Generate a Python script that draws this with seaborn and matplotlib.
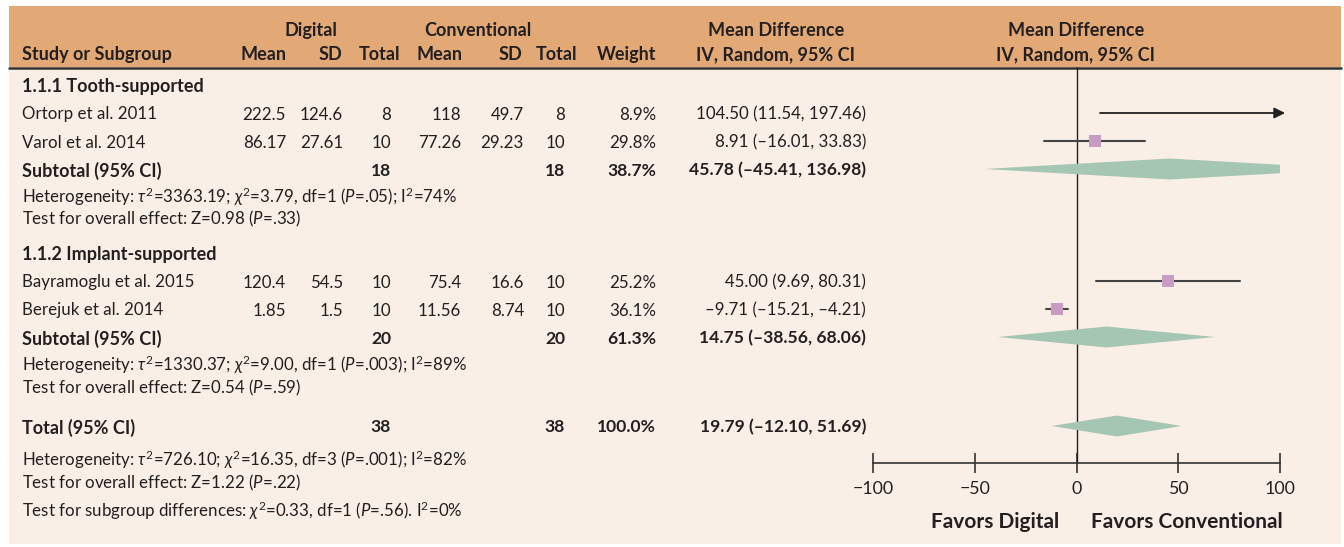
import numpy as np
import pandas as pd
import matplotlib
matplotlib.use('Agg')
import matplotlib.pyplot as plt
import seaborn as sns
from matplotlib.patches import Rectangle

sns.set_theme(style='white')
FONT = 'Lato'
plt.rcParams['font.family'] = [FONT, 'DejaVu Sans']
plt.rcParams['mathtext.fontset'] = 'custom'
plt.rcParams['mathtext.rm'] = FONT
plt.rcParams['mathtext.it'] = FONT + ':italic'
plt.rcParams['mathtext.bf'] = FONT + ':bold'

# ---- data ----
groups = ['1.1.1 Tooth-supported', '1.1.2 Implant-supported']
studies = ['Ortorp et al. 2011', 'Varol et al. 2014', 'Bayramoglu et al. 2015', 'Berejuk et al. 2014']
dig_mean = ['222.5', '86.17', '120.4', '1.85']
dig_sd = ['124.6', '27.61', '54.5', '1.5']
dig_n = ['8', '10', '10', '10']
con_mean = ['118', '77.26', '75.4', '11.56']
con_sd = ['49.7', '29.23', '16.6', '8.74']
con_n = ['8', '10', '10', '10']
weight = ['8.9%', '29.8%', '25.2%', '36.1%']
md = [104.50, 8.91, 45.00, -9.71]
md_lo = [11.54, -16.01, 9.69, -15.21]
md_hi = [197.46, 33.83, 80.31, -4.21]

sub_labels = ['Subtotal (95% CI)', 'Subtotal (95% CI)', 'Total (95% CI)']
sub_n = ['18', '20', '38']
sub_weight = ['38.7%', '61.3%', '100.0%']
sub_md = [45.78, 14.75, 19.79]
sub_lo = [-45.41, -38.56, -12.10]
sub_hi = [136.98, 68.06, 51.69]

notes = [
    [r'Heterogeneity: $\tau^2$=3363.19; $\chi^2$=3.79, df=1 ($\mathit{P}$=.05); I$^2$=74%',
     r'Test for overall effect: Z=0.98 ($\mathit{P}$=.33)'],
    [r'Heterogeneity: $\tau^2$=1330.37; $\chi^2$=9.00, df=1 ($\mathit{P}$=.003); I$^2$=89%',
     r'Test for overall effect: Z=0.54 ($\mathit{P}$=.59)'],
    [r'Heterogeneity: $\tau^2$=726.10; $\chi^2$=16.35, df=3 ($\mathit{P}$=.001); I$^2$=82%',
     r'Test for overall effect: Z=1.22 ($\mathit{P}$=.22)',
     r'Test for subgroup differences: $\chi^2$=0.33, df=1 ($\mathit{P}$=.56). I$^2$=0%'],
]
ticks = [-100, -50, 0, 50, 100]

# ---- layout (pixel rows) ----
W, H = 1344, 547
group_y = [85, 253]
study_y = [113, 141, 281, 309]
sub_y = [169, 337, 426]
note_y = [[194, 217], [362, 386], [457, 481, 508]]

TXT = '#231F20'
FS = 12.2
FSB = 12.6
FSH = 13

fig = plt.figure(figsize=(W / 100, H / 100), dpi=100)
ax0 = fig.add_axes([0, 0, 1, 1])
ax0.set_xlim(0, W)
ax0.set_ylim(H, 0)
ax0.axis('off')
ax0.add_patch(Rectangle((9, 6), 1332, 538, color='#FAEFE6', lw=0))
ax0.add_patch(Rectangle((9, 6), 1332, 61, color='#E2A977', lw=0))
ax0.plot([9, 1341], [67.5, 67.5], color='#333333', lw=1.8)


def put(x, y, s, ha='left', bold=False, size=None):
    if size is None:
        size = FSB if bold else FS
    ax0.text(x, y, s, ha=ha, va='center_baseline', fontsize=size, color=TXT,
             fontweight='bold' if bold else 'normal')


# header
put(311, 29, 'Digital', 'center', True, FSH)
put(478, 29, 'Conventional', 'center', True, FSH)
put(776, 29, 'Mean Difference', 'center', True, FSH)
put(1076, 29, 'Mean Difference', 'center', True, FSH)
put(22, 53, 'Study or Subgroup', bold=True, size=FSH)
for x, s in zip([286, 342, 400, 462, 522, 577, 656],
                ['Mean', 'SD', 'Total', 'Mean', 'SD', 'Total', 'Weight']):
    put(x, 53, s, 'right', True, FSH)
put(776, 53, 'IV, Random, 95% CI', 'center', True, FSH)
put(1076, 53, 'IV, Random, 95% CI', 'center', True, FSH)

cols = [286, 343, 391, 461, 524, 565, 656]
for g, gy in zip(groups, group_y):
    put(22, gy, g, bold=True, size=FSH)
for i, y in enumerate(study_y):
    put(22, y, studies[i])
    for x, v in zip(cols, [dig_mean[i], dig_sd[i], dig_n[i], con_mean[i], con_sd[i], con_n[i], weight[i]]):
        put(x, y, v, 'right')
    put(866, y, f'{md[i]:.2f} ({md_lo[i]:.2f}, {md_hi[i]:.2f})'.replace('-', '\u2013'), 'right')
for i, y in enumerate(sub_y):
    put(22, y, sub_labels[i], bold=True, size=FSH)
    put(cols[2], y, sub_n[i], 'right', True)
    put(cols[5], y, sub_n[i], 'right', True)
    put(cols[6], y, sub_weight[i], 'right', True)
    put(866, y, f'{sub_md[i]:.2f} ({sub_lo[i]:.2f}, {sub_hi[i]:.2f})'.replace('-', '\u2013'), 'right', True)
for lines, ys in zip(notes, note_y):
    for s, y in zip(lines, ys):
        put(22, y, s)

put(995, 520, 'Favors Digital', 'center', True, 15)
put(1187, 520, 'Favors Conventional', 'center', True, 15)

# ---- forest panel ----
x0, x1, ytop, ybot = 873, 1280, 67, 463
ax = fig.add_axes([x0 / W, (H - ybot) / H, (x1 - x0) / W, (ybot - ytop) / H])
ax.set_xlim(-100, 100)
ax.set_ylim(ybot, ytop)
ax.patch.set_alpha(0)
for side in ['top', 'left', 'right']:
    ax.spines[side].set_visible(False)
ax.spines['bottom'].set_color('#333333')
ax.spines['bottom'].set_linewidth(1.2)
ax.set_xticks(ticks)
ax.set_yticks([])
ax.tick_params(axis='x', direction='inout', length=14, width=1.2, color='#333333',
               labelsize=12.8, labelcolor=TXT, pad=6, bottom=True)
ax.axvline(0, color=TXT, lw=1)

xmax = ax.get_xlim()[1]
for lo, hi, y in zip(md_lo, md_hi, study_y):
    if hi > xmax:
        ax.annotate('', xy=(xmax + 2.5, y), xytext=(lo, y), annotation_clip=False,
                    arrowprops=dict(arrowstyle='-|>', color='#222222', lw=1.3,
                                    mutation_scale=16, shrinkA=0, shrinkB=0))
    else:
        ax.plot([lo, hi], [y, y], color='#444444', lw=1.5, zorder=2)

df = pd.DataFrame({'md': md, 'y': study_y})
sns.scatterplot(data=df, x='md', y='y', marker='s', s=85, color='#C89BC2',
                linewidth=0, ax=ax, zorder=3, legend=False)
ax.set_xlabel('')
ax.set_ylabel('')

for m, lo, hi, y in zip(sub_md, sub_lo, sub_hi, sub_y):
    ax.fill([lo, m, hi, m], [y, y - 10.5, y, y + 10.5], color='#A6C6B4', lw=0, zorder=2)

fig.savefig('out.png', dpi=100)
